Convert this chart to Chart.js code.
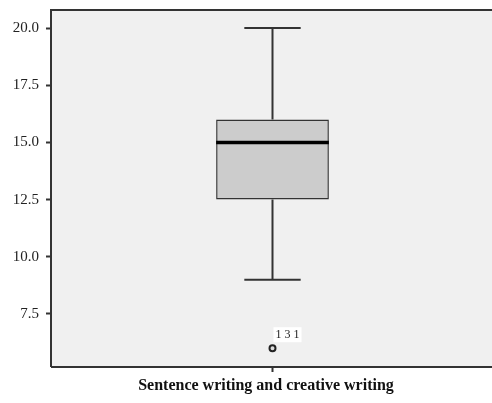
<!DOCTYPE html>
<html>
<head>
<meta charset="utf-8">
<script src="https://cdn.jsdelivr.net/npm/chart.js@4/dist/chart.umd.min.js"></script>
<style>
  html, body { margin: 0; padding: 0; background: #fff; overflow: hidden; }
  canvas { display: block; }
</style>
</head>
<body>
<canvas id="box" width="500" height="403"></canvas>
<script>
// values
const categories = ['Sentence writing and creative writing'];
const q1 = [12.5];
const median = [15];
const q3 = [16];
const whiskerLow = [9];
const whiskerHigh = [20];
const outlierValues = [6];
const outlierIds = ['131'];
const yTicks = [7.5, 10, 12.5, 15, 17.5, 20];

const axisColor = '#333333';
const serif = '"Liberation Serif", "DejaVu Serif", serif';

// whiskers, median, frame, outlier id and axis title
const boxExtras = {
    id: 'boxExtras',
    beforeDraw(chart) {
        const a = chart.chartArea;
        const ctx = chart.ctx;
        ctx.save();
        ctx.fillStyle = '#f0f0f0';
        ctx.fillRect(a.left, a.top, a.right - a.left, a.bottom - a.top);
        ctx.restore();
    },
    afterDatasetsDraw(chart) {
        const ctx = chart.ctx;
        const y = chart.scales.y;
        const bars = chart.getDatasetMeta(0).data;
        ctx.save();
        bars.forEach((bar, i) => {
            const cx = bar.x;
            const half = bar.width / 2;
            const cap = half / 2;
            ctx.strokeStyle = axisColor;
            ctx.lineWidth = 2;
            ctx.beginPath();
            ctx.moveTo(cx, y.getPixelForValue(q3[i]));
            ctx.lineTo(cx, y.getPixelForValue(whiskerHigh[i]));
            ctx.moveTo(cx - cap, y.getPixelForValue(whiskerHigh[i]));
            ctx.lineTo(cx + cap, y.getPixelForValue(whiskerHigh[i]));
            ctx.moveTo(cx, y.getPixelForValue(q1[i]));
            ctx.lineTo(cx, y.getPixelForValue(whiskerLow[i]));
            ctx.moveTo(cx - cap, y.getPixelForValue(whiskerLow[i]));
            ctx.lineTo(cx + cap, y.getPixelForValue(whiskerLow[i]));
            ctx.stroke();
            ctx.strokeStyle = '#000';
            ctx.lineWidth = 3.5;
            ctx.beginPath();
            ctx.moveTo(cx - half, y.getPixelForValue(median[i]));
            ctx.lineTo(cx + half, y.getPixelForValue(median[i]));
            ctx.stroke();
        });
        // outlier ids
        const pts = chart.getDatasetMeta(1).data;
        ctx.font = '12px ' + serif;
        ctx.textBaseline = 'alphabetic';
        pts.forEach((p, i) => {
            const label = outlierIds[i].split('').join(' ');
            const w = ctx.measureText(label).width;
            ctx.fillStyle = '#fff';
            ctx.fillRect(p.x + 1, p.y - 21, w + 4, 15);
            ctx.fillStyle = '#222';
            ctx.fillText(label, p.x + 3, p.y - 10);
        });
        ctx.restore();
    },
    afterDraw(chart) {
        const a = chart.chartArea;
        const ctx = chart.ctx;
        ctx.save();
        ctx.strokeStyle = axisColor;
        ctx.lineWidth = 2;
        ctx.beginPath();
        ctx.moveTo(a.left, a.bottom);
        ctx.lineTo(a.left, a.top);
        ctx.lineTo(a.right, a.top);
        ctx.moveTo(a.left, a.bottom);
        ctx.lineTo(a.right, a.bottom);
        ctx.stroke();
        ctx.fillStyle = '#111';
        ctx.font = 'bold 16px ' + serif;
        ctx.textAlign = 'center';
        ctx.textBaseline = 'middle';
        ctx.fillText(categories[0], 266, 386);
        ctx.restore();
    }
};

new Chart(document.getElementById('box').getContext('2d'), {
    type: 'bar',
    data: {
        labels: categories,
        datasets: [{
            type: 'bar',
            data: categories.map((c, i) => [q1[i], q3[i]]),
            backgroundColor: '#cccccc',
            borderColor: axisColor,
            borderWidth: 1.5,
            borderSkipped: false,
            categoryPercentage: 1,
            barPercentage: 0.2545
        }, {
            type: 'scatter',
            data: outlierValues.map((v) => ({ x: categories[0], y: v })),
            pointRadius: 3,
            pointBorderWidth: 2,
            pointBackgroundColor: '#dddddd',
            pointBorderColor: '#222222'
        }]
    },
    options: {
        responsive: false,
        animation: false,
        devicePixelRatio: 1,
        layout: { padding: { top: 10, right: 0, left: 0, bottom: 0 } },
        plugins: {
            legend: { display: false },
            tooltip: { enabled: false }
        },
        scales: {
            x: {
                type: 'category',
                offset: true,
                border: { display: false },
                grid: { offset: false, drawOnChartArea: false, drawTicks: true, tickLength: 5, tickColor: axisColor, tickWidth: 2 },
                ticks: { display: false },
                afterFit(scale) { scale.height = 36; scale.paddingLeft = 0; scale.paddingRight = 0; }
            },
            y: {
                min: 5.18,
                max: 20.79,
                border: { display: false },
                grid: { drawOnChartArea: false, drawTicks: true, tickLength: 5, tickColor: axisColor, tickWidth: 2 },
                afterBuildTicks(scale) {
                    scale.ticks = yTicks.map((v) => ({ value: v }));
                },
                ticks: {
                    color: '#222',
                    padding: 7,
                    font: { family: serif, size: 15 },
                    callback: (v) => Number(v).toFixed(1)
                },
                afterFit(scale) { scale.width = 51; scale.paddingTop = 0; scale.paddingBottom = 0; }
            }
        }
    },
    plugins: [boxExtras]
});
</script>
</body>
</html>
